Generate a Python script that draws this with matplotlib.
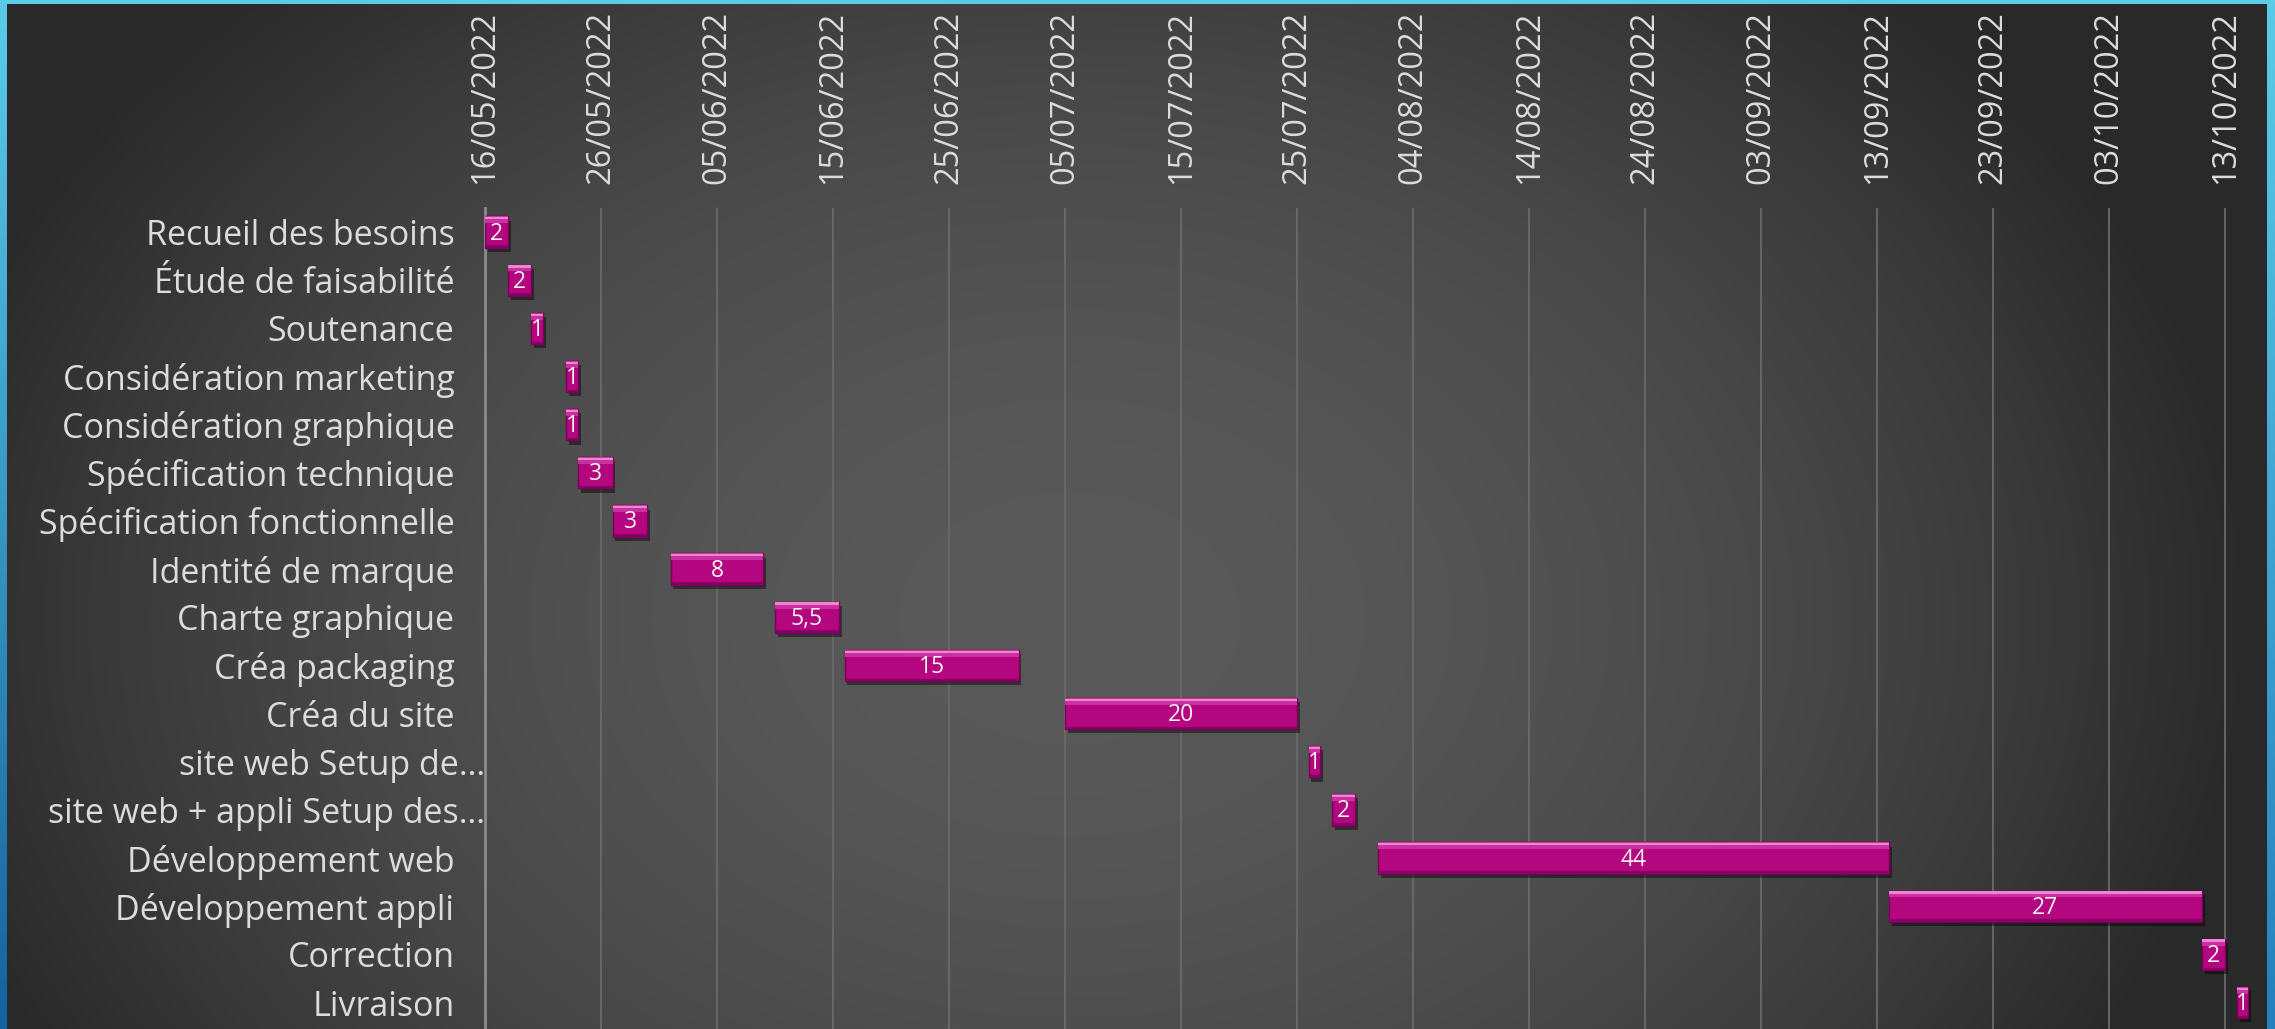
import numpy as np
import matplotlib
matplotlib.use("Agg")
import matplotlib.pyplot as plt
import matplotlib.dates as mdates
import matplotlib.patheffects as pe
from datetime import datetime

# Taches du planning (de haut en bas)
TACHES = [
    "Recueil des besoins",
    "Étude de faisabilité",
    "Soutenance",
    "Considération marketing",
    "Considération graphique",
    "Spécification technique",
    "Spécification fonctionnelle",
    "Identité de marque",
    "Charte graphique",
    "Créa packaging",
    "Créa du site",
    "site web Setup de…",
    "site web + appli Setup des…",
    "Développement web",
    "Développement appli",
    "Correction",
    "Livraison",
]

# Dates de debut de chaque tache
DEBUTS = [
    "16/05/2022", "18/05/2022", "20/05/2022", "23/05/2022", "23/05/2022",
    "24/05/2022", "27/05/2022", "01/06/2022", "10/06/2022", "16/06/2022",
    "05/07/2022", "26/07/2022", "28/07/2022", "01/08/2022", "14/09/2022",
    "11/10/2022", "14/10/2022",
]

# Duree en jours
DUREES = [2, 2, 1, 1, 1, 3, 3, 8, 5.5, 15, 20, 1, 2, 44, 27, 2, 1]

# Axe des dates
DATE_MIN = "16/05/2022"
DATE_MAX = "16/10/2022"
PAS_JOURS = 10

W, H = 2275, 1029
AX_G, AX_D, AX_H = 485, 2267, 208

ROSE = "#B3067F"
TEXTE = "#DCDCDC"
POLICE = ["Open Sans", "DejaVu Sans"]


def fond():
    # Degrade radial gris fonce + bordure bleue du theme
    v, u = np.mgrid[0:H, 0:W]
    u = u / W
    v = v / H
    r2 = ((u - 0.47) / 0.52) ** 2 + ((v - 0.6) / 0.85) ** 2
    g = 41 + 48 * np.clip(1 - r2, 0, 1)
    img = np.dstack([g, g, g]) / 255.0

    haut = np.array([0x5c, 0xcb, 0xe8]) / 255.0
    bas_g = np.array([0x14, 0x62, 0x9e]) / 255.0
    bas_d = np.array([0x25, 0x80, 0xbb]) / 255.0
    t = (np.arange(H) / H)[:, None]
    img[:, :7] = (haut * (1 - t) + bas_g * t)[:, None, :]
    img[:, AX_D:] = (haut * (1 - t) + bas_d * t)[:, None, :]
    img[:4, :] = haut
    return img


def main():
    fig = plt.figure(figsize=(W / 100, H / 100), dpi=100)

    bg = fig.add_axes([0, 0, 1, 1])
    bg.imshow(fond(), aspect="auto", extent=[0, 1, 0, 1])
    bg.axis("off")

    ax = fig.add_axes([AX_G / W, 0, (AX_D - AX_G) / W, (H - AX_H) / H])
    ax.set_facecolor("none")

    debuts = [mdates.date2num(datetime.strptime(d, "%d/%m/%Y")) for d in DEBUTS]
    y = np.arange(len(TACHES))
    h = 0.65

    # Barre principale avec ombre
    barres = ax.barh(y, DUREES, left=debuts, height=h, color=ROSE,
                     edgecolor="#7A0058", linewidth=1.0, zorder=3)
    for b in barres:
        b.set_path_effects([pe.SimplePatchShadow(offset=(2, -3), shadow_rgbFace="black", alpha=0.45),
                            pe.Normal()])

    # Effet biseau : haut clair, bas sombre
    ax.barh(y - h / 2 + h * 0.11, DUREES, left=debuts, height=h * 0.22,
            color="#C8329E", linewidth=0, zorder=4)
    ax.barh(y - h / 2 + h * 0.06, DUREES, left=debuts, height=h * 0.07,
            color="#F283D4", linewidth=0, zorder=5)
    ax.barh(y + h / 2 - h * 0.04, DUREES, left=debuts, height=h * 0.08,
            color="#86006A", linewidth=0, zorder=5)

    # Etiquettes de duree
    for yi, d0, dur in zip(y, debuts, DUREES):
        txt = f"{dur:g}".replace(".", ",")
        ax.text(d0 + dur / 2, yi + 0.03, txt, ha="center", va="center",
                color="#F2F2F2", fontsize=16.5, family=POLICE, zorder=6)

    dmin = mdates.date2num(datetime.strptime(DATE_MIN, "%d/%m/%Y"))
    dmax = mdates.date2num(datetime.strptime(DATE_MAX, "%d/%m/%Y"))
    ax.set_xlim(dmin, dmin + 153.6)
    ticks = np.arange(dmin, dmax, PAS_JOURS)
    ax.set_xticks(ticks)
    ax.xaxis.set_major_formatter(mdates.DateFormatter("%d/%m/%Y"))
    ax.xaxis.tick_top()
    ax.tick_params(axis="x", length=0, pad=17, rotation=90, labelsize=23.5,
                   labelcolor=TEXTE)
    ax.grid(axis="x", color="#6A6A6A", linewidth=1.3, zorder=0)
    ax.set_axisbelow(True)

    ax.set_yticks(y)
    ax.set_yticklabels(TACHES)
    ax.set_ylim(len(TACHES) - 0.45, -0.5)
    ax.tick_params(axis="y", length=0, pad=22, labelsize=24.5, labelcolor=TEXTE)

    for lab in ax.get_xticklabels() + ax.get_yticklabels():
        lab.set_family(POLICE)

    # Les libelles tronques vont jusqu'a l'axe
    for lab in ax.get_yticklabels():
        if lab.get_text().endswith("…"):
            lab.set_x(31 / (AX_D - AX_G))

    for s in ["top", "right", "bottom"]:
        ax.spines[s].set_visible(False)
    ax.spines["left"].set_color("#8C8C8C")
    ax.spines["left"].set_linewidth(2)

    fig.savefig("out.png", dpi=100)


if __name__ == "__main__":
    main()
